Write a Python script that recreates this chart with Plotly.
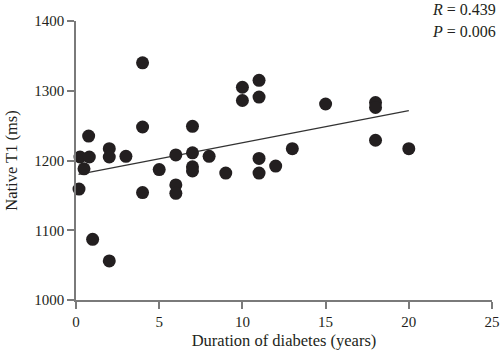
import plotly.graph_objects as go

duration = [4, 0.76, 4, 7, 2, 0.24, 0.8, 2, 3, 6, 7, 8, 0.48, 5, 7, 7, 0.18, 4, 6, 6,
            1, 2, 10, 10, 11, 11, 15, 13, 9, 11, 11, 12, 18, 18, 18, 20]
native_t1 = [1340, 1235, 1248, 1249, 1217, 1205, 1205, 1205, 1206, 1208, 1211, 1206, 1188, 1187,
             1191, 1185, 1159, 1154, 1165, 1153, 1087, 1056, 1305, 1286, 1315, 1291, 1281, 1217,
             1182, 1203, 1182, 1192, 1283, 1276, 1229, 1217]
fit_x = [0.15, 20]
fit_y = [1180, 1271.4]
x_ticks = [0, 5, 10, 15, 20, 25]
y_ticks = [1000, 1100, 1200, 1300, 1400]

FONT = "Liberation Serif"
INK = "#231f20"
AXIS = "#7a7a7a"

fig = go.Figure()
fig.add_trace(go.Scatter(x=fit_x, y=fit_y, mode="lines",
                         line=dict(color="#333333", width=1.2), showlegend=False))
fig.add_trace(go.Scatter(x=duration, y=native_t1, mode="markers", cliponaxis=False,
                         marker=dict(size=13, color=INK, line=dict(width=0)),
                         showlegend=False))

fig.update_layout(
    width=500, height=357,
    margin=dict(l=76, r=8, t=21, b=57, autoexpand=False),
    plot_bgcolor="white", paper_bgcolor="white",
    font=dict(family=FONT, size=15, color=INK),
    xaxis=dict(range=[0, 25], tickvals=x_ticks, showgrid=False, zeroline=False,
               showline=True, linecolor=AXIS, linewidth=1.5, automargin=False,
               ticks="outside", ticklen=7, tickcolor=AXIS, tickwidth=1.5,
               tickfont=dict(size=15),
               title=dict(text="Duration of diabetes (years)", font=dict(size=16.5), standoff=6)),
    yaxis=dict(range=[1000, 1400], tickvals=y_ticks, showgrid=False, zeroline=False,
               showline=True, linecolor=AXIS, linewidth=1.5, automargin=False,
               ticks="outside", ticklen=7, tickcolor=AXIS, tickwidth=1.5,
               tickfont=dict(size=15),
               title=dict(text="Native T1 (ms)", font=dict(size=16.5), standoff=12)),
    annotations=[
        dict(text="<i>R</i> = 0.439", xref="paper", yref="paper", x=1.0, xshift=6,
             y=(357 - 57 - 10) / 279.0, xanchor="right", yanchor="middle",
             showarrow=False, font=dict(size=16)),
        dict(text="<i>P</i> = 0.006", xref="paper", yref="paper", x=1.0, xshift=6,
             y=(357 - 57 - 31) / 279.0, xanchor="right", yanchor="middle",
             showarrow=False, font=dict(size=16)),
    ],
)

fig.write_html("out.html", config={"displayModeBar": False},
               post_script="document.body.style.margin='0';document.body.style.overflow='hidden';")
